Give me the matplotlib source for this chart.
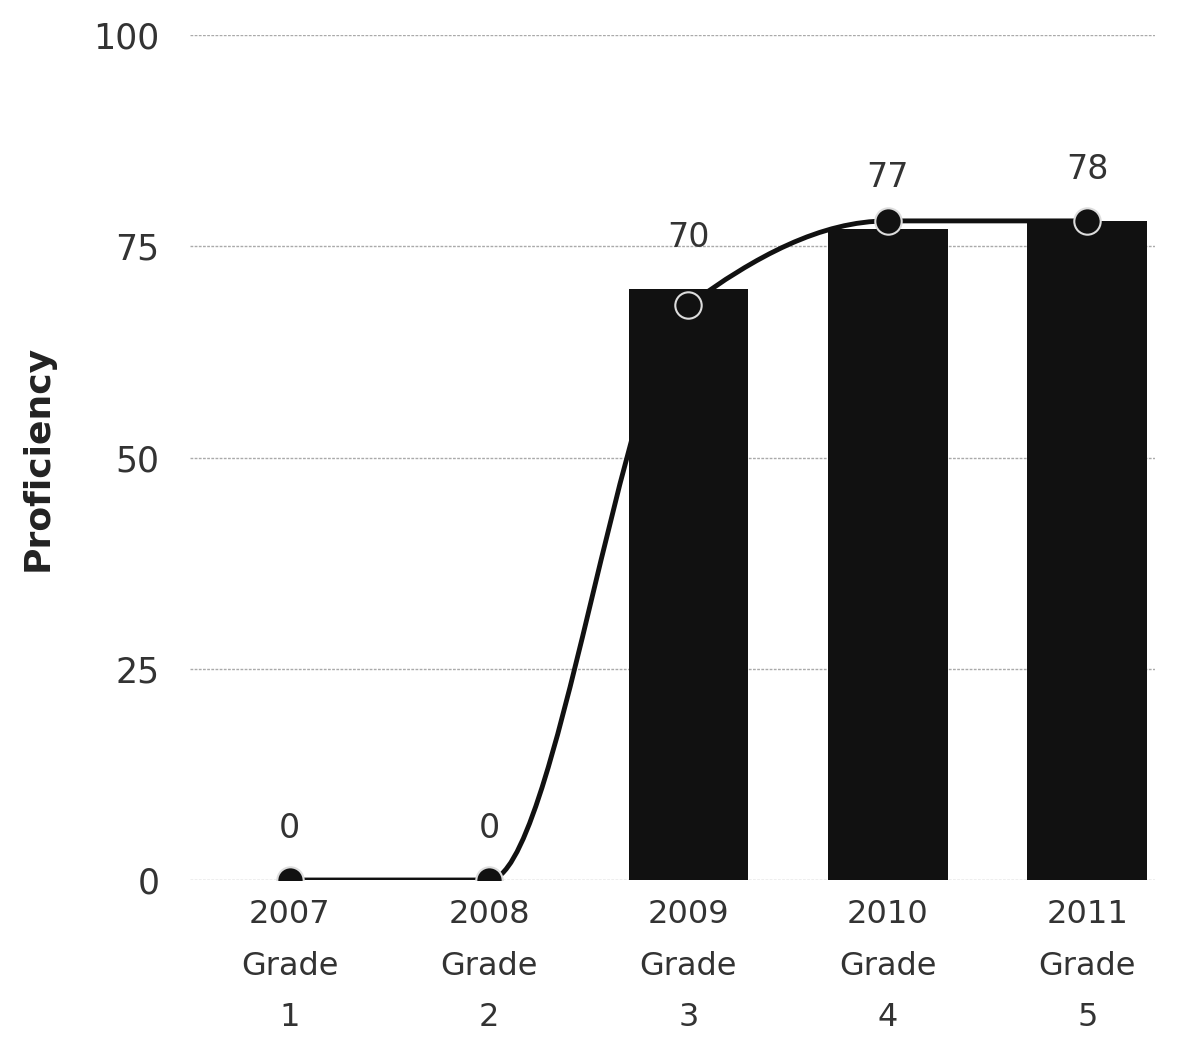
import matplotlib.pyplot as plt
from matplotlib.path import Path
from matplotlib.patches import PathPatch

plt.rcParams['font.family'] = ['DejaVu Sans']

years = ['2007', '2008', '2009', '2010', '2011']
grades = ['1', '2', '3', '4', '5']
bar_values = [0, 0, 70, 77, 78]
line_values = [0, 0, 68, 78, 78]

fig = plt.figure(figsize=(11.91, 10.48), dpi=100)
ax = fig.add_axes([0.1595, 0.1603, 0.8103, 0.8063])

x = list(range(len(years)))

ax.bar(x, bar_values, width=0.6, color='#111111', zorder=3)

# smooth monotone curve through the line points (cubic bezier segments)
slopes = [line_values[i + 1] - line_values[i] for i in range(len(x) - 1)]
tang = [0.0] * len(x)
for i in range(1, len(x) - 1):
    a, b = slopes[i - 1], slopes[i]
    if a * b > 0:
        tang[i] = 2 * a * b / (a + b)
verts = [(x[0], line_values[0])]
codes = [Path.MOVETO]
for i in range(len(x) - 1):
    verts += [(x[i] + 1 / 3, line_values[i] + tang[i] / 3),
              (x[i + 1] - 1 / 3, line_values[i + 1] - tang[i + 1] / 3),
              (x[i + 1], line_values[i + 1])]
    codes += [Path.CURVE4] * 3
ax.add_patch(PathPatch(Path(verts, codes), facecolor='none', edgecolor='#111111',
                       lw=3.5, zorder=2, capstyle='round'))
ax.plot(x, line_values, linestyle='none', marker='o', markersize=19,
        markerfacecolor='#111111', markeredgecolor='#dddddd', markeredgewidth=1.5,
        zorder=4)

for xi, bv in zip(x, bar_values):
    ax.annotate(str(bv), (xi, bv), xytext=(0, 37), textcoords='offset points',
                ha='center', va='center', fontsize=24, color='#333333')

ax.set_xlim(-0.5, 4.34)
ax.set_ylim(0, 100)
ax.set_yticks([0, 25, 50, 75, 100])
ax.set_xticks(x)
ax.set_xticklabels([f'{y}\nGrade\n{g}' for y, g in zip(years, grades)],
                   fontsize=23, color='#333333', linespacing=1.85)
ax.tick_params(axis='y', labelsize=25, colors='#333333', length=0, pad=22)
ax.tick_params(axis='x', length=0, pad=14)
ax.grid(axis='y', color='#aaaaaa', linestyle=(0, (2, 1)), lw=1)
ax.set_axisbelow(True)
for s in ax.spines.values():
    s.set_visible(False)
ax.set_ylabel('Proficiency', fontsize=26, fontweight='bold', color='#222222', labelpad=28)

fig.savefig('out.png', dpi=100, facecolor='white')
